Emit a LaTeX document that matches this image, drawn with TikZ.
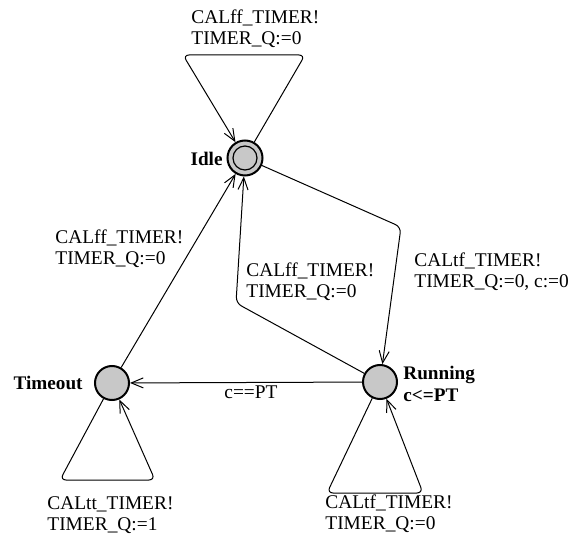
\documentclass[tikz,border=0pt]{standalone}
\usepackage{fontspec}
\setmainfont{Liberation Serif}
\usepackage{tikz}
\usetikzlibrary{arrows.meta, positioning}
\definecolor{locgray}{RGB}{200, 200, 200}

\begin{document}
\begin{tikzpicture}[
    x=0.5pt, y=-0.5pt,
    loc/.style={circle, draw, line width=1pt, fill=locgray, minimum size=17pt, inner sep=0pt},
    locname/.style={font=\fontsize{9.6}{11}\selectfont\bfseries, inner sep=0pt, align=left},
    guard/.style={font=\fontsize{9.7}{10.5}\selectfont, inner sep=0pt, align=left},
    edge/.style={-{Straight Barb[length=6pt, width=5pt]}, line width=0.5pt, rounded corners=3pt}
]
\useasboundingbox (0,0) rectangle (568,540);

% Locations
\node[loc, minimum size=17.5pt] (Idle) at (245,158) {};
\node[circle, draw, line width=0.6pt, minimum size=12pt, inner sep=0pt] (IdleIn) at (Idle) {};
\node[loc] (Timeout) at (112,383) {};
\node[loc] (Running) at (380,382) {};

\node[locname, anchor=base east] (idlename) at (223,166) {Idle};
\node[locname, anchor=base east] (timeoutname) at (83,389) {Timeout};
\node[locname, anchor=north west] (runningname) at (403,366) {Running\\c<=PT};

% Corners of the loops and bent edges
\coordinate (il1) at (183,55);
\coordinate (il2) at (305,55);
\coordinate (tl1) at (60,480);
\coordinate (tl2) at (155,480);
\coordinate (rl1) at (327,493);
\coordinate (rl2) at (423,493);
\coordinate (ir) at (401,227);
\coordinate (ri) at (236,303);

% Self loops
\draw[edge] (Idle) -- (il2) -- (il1) -- (Idle);
\draw[edge] (Timeout) -- (tl1) -- (tl2) -- (Timeout);
\draw[edge] (Running) -- (rl1) -- (rl2) -- (Running);

% Transitions between locations
\draw[edge] (Idle) -- (ir) -- (Running);
\draw[edge] (Running) -- (ri) -- (Idle);
\draw[edge] (Timeout) -- (Idle);
\draw[edge] (Running) -- (Timeout);

% Synchronisations and updates
\node[guard, anchor=north west] (lbidle) at (191,9) {CALff\_TIMER!\\TIMER\_Q:=0};
\node[guard, anchor=north west] (lbto) at (55,229) {CALff\_TIMER!\\TIMER\_Q:=0};
\node[guard, anchor=north west] (lbri) at (246,262) {CALff\_TIMER!\\TIMER\_Q:=0};
\node[guard, anchor=north west] (lbir) at (414,252) {CALtf\_TIMER!\\TIMER\_Q:=0, c:=0};
\node[guard, anchor=north west] (lbrt) at (224,385) {c==PT};
\node[guard, anchor=north west] (lbtl) at (47,496) {CALtt\_TIMER!\\TIMER\_Q:=1};
\node[guard, anchor=north west] (lbrl) at (325,494) {CALtf\_TIMER!\\TIMER\_Q:=0};

\end{tikzpicture}
\end{document}
